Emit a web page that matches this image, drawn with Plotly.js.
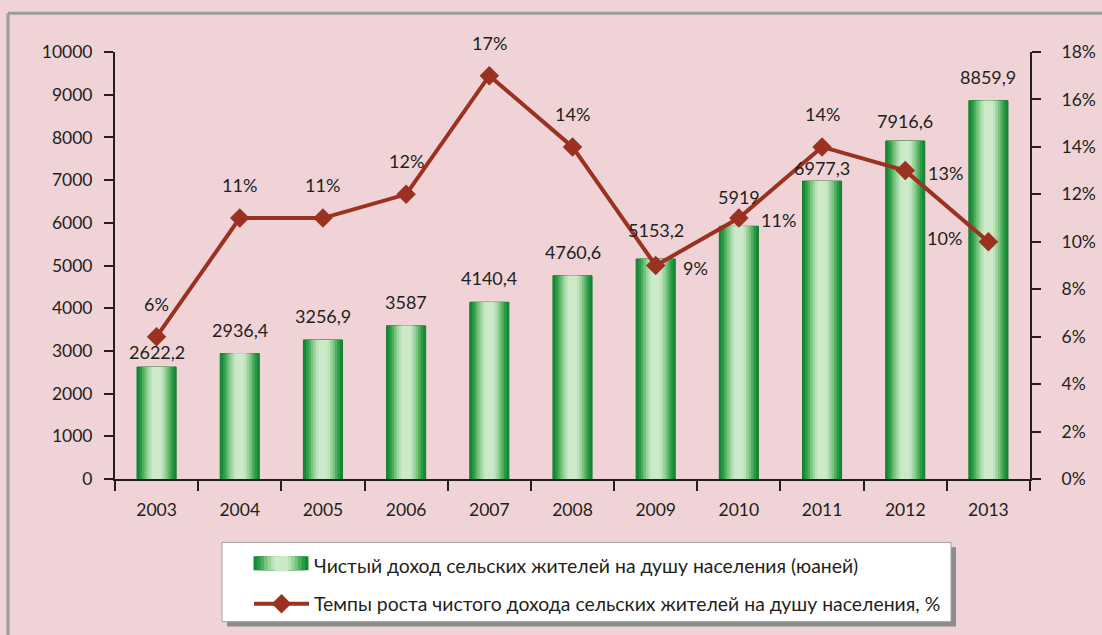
<!DOCTYPE html>
<html>
<head>
<meta charset="utf-8">
<script src="https://cdn.plot.ly/plotly-3.0.1.min.js"></script>
<style>
html,body{margin:0;padding:0;background:#efd3d6;}
#chart{width:1102px;height:635px;}
</style>
</head>
<body>
<div id="chart"></div>
<script>
// ---- data ----
const years = ['2003','2004','2005','2006','2007','2008','2009','2010','2011','2012','2013'];
const income = [2622.2, 2936.4, 3256.9, 3587, 4140.4, 4760.6, 5153.2, 5919, 6977.3, 7916.6, 8859.9];
const growth = [0.06, 0.11, 0.11, 0.12, 0.17, 0.14, 0.09, 0.11, 0.14, 0.13, 0.10];
const growthLabels = ['6%','11%','11%','12%','17%','14%','9%','11%','14%','13%','10%'];
const incomeName = 'Чистый доход сельских жителей на душу населения (юаней)';
const growthName = 'Темпы роста чистого дохода сельских жителей на душу населения, %';

// ---- style ----
const labelPos = ['top','top','top','top','top','top','right','right','top','right','left'];
const barLabelLift = [2, 11, 11, 11, 11, 11, 16, 16, 0, 7, 11];
const gradient = [
  {w:0.47, c:'#178a35'},
  {w:0.41, c:'#2a9a45'},
  {w:0.35, c:'#4fae5f'},
  {w:0.29, c:'#78c37e'},
  {w:0.23, c:'#9dd49e'},
  {w:0.17, c:'#bbe2b8'},
  {w:0.11, c:'#cdeac8'}
];
const FONT = 'Lato, "Open Sans", "DejaVu Sans", sans-serif';
const INK = '#231f20';
const LINE = '#9b3221';

const incomeText = income.map(v => String(v).replace('.', ','));
const last = gradient.length - 1;

const traces = gradient.map((g, i) => ({
  type: 'bar',
  x: years,
  y: income,
  width: g.w,
  offset: -g.w / 2,
  marker: {color: g.c, line: {width: i === 0 ? 1 : 0, color: '#147a2f'}},
  name: incomeName,
  legendgroup: 'a',
  showlegend: i === last,
  hoverinfo: 'skip'
}));

traces.push({
  type: 'scatter',
  mode: 'lines+markers',
  x: years,
  y: growth,
  yaxis: 'y2',
  line: {color: LINE, width: 4},
  marker: {symbol: 'diamond', size: 15, color: LINE},
  name: growthName,
  legendgroup: 'b',
  cliponaxis: false
});

const shiftMap = {
  top:   {xshift: 0,   yshift: 33},
  right: {xshift: 40,  yshift: -2},
  left:  {xshift: -44, yshift: 4}
};
// category axis: annotation x given as the category index
const annotations = years.map((yr, i) => ({
  x: i, y: growth[i], xref: 'x', yref: 'y2',
  text: growthLabels[i], showarrow: false,
  xshift: shiftMap[labelPos[i]].xshift,
  yshift: shiftMap[labelPos[i]].yshift,
  font: {family: FONT, size: 18, color: INK}
}));
years.forEach((yr, i) => annotations.push({
  x: i, y: income[i], xref: 'x', yref: 'y',
  text: incomeText[i], showarrow: false,
  yanchor: 'bottom', yshift: barLabelLift[i],
  font: {family: FONT, size: 18, color: INK}
}));

const W = 915, H = 431, L = 115, T = 52;
const px = x => (x - L) / W;
const py = y => (T + H - y) / H;

const shapes = [
  // outer frame
  {type:'line', xref:'paper', yref:'paper', x0:px(8), x1:px(1110), y0:py(13), y1:py(13), line:{color:'#9c9c9c', width:3}},
  {type:'line', xref:'paper', yref:'paper', x0:px(8), x1:px(8), y0:py(13), y1:py(650), line:{color:'#9c9c9c', width:3}},
  // legend shadow & box
  {type:'rect', xref:'paper', yref:'paper', x0:px(227), x1:px(956), y0:py(552), y1:py(632), fillcolor:'#8c8c8c', line:{width:0}},
  {type:'rect', xref:'paper', yref:'paper', x0:px(222), x1:px(951), y0:py(547), y1:py(627), fillcolor:'#ffffff', line:{color:'#a0a0a0', width:1}}
];
// gradient swatch behind the legend's bar symbol
const swCx = 281, swCy = 568, swW = 55, swH = 14;
gradient.forEach(g => {
  const hw = g.w / gradient[0].w * swW / 2;
  shapes.push({type:'rect', xref:'paper', yref:'paper',
    x0:px(swCx - hw), x1:px(swCx + hw), y0:py(swCy - swH/2), y1:py(swCy + swH/2),
    fillcolor:g.c, line:{width:0}});
});

const layout = {
  width: 1102, height: 635,
  margin: {l: L, r: 1102 - L - W, t: T, b: 635 - T - H},
  paper_bgcolor: '#efd3d6',
  plot_bgcolor: 'rgba(0,0,0,0)',
  font: {family: FONT, size: 17.5, color: INK},
  barmode: 'overlay',
  showlegend: true,
  legend: {
    x: px(249), y: py(551), xanchor: 'left', yanchor: 'top',
    bgcolor: 'rgba(0,0,0,0)', borderwidth: 0,
    font: {family: FONT, size: 19.4, color: INK},
    traceorder: 'grouped', tracegroupgap: 10, itemwidth: 55
  },
  xaxis: {
    type: 'category', range: [-0.5, years.length - 0.5],
    showline: true, linecolor: INK, linewidth: 2,
    ticks: 'outside', tickson: 'boundaries', ticklen: 10, tickwidth: 2, tickcolor: INK,
    ticklabelstandoff: 14,
    showgrid: false, zeroline: false,
    tickfont: {family: FONT, size: 17.5, color: INK}
  },
  yaxis: {
    range: [0, 10000], dtick: 1000, tickformat: 'd',
    showline: true, linecolor: INK, linewidth: 2,
    ticks: 'outside', ticklen: 9, tickwidth: 2, tickcolor: INK,
    ticklabelstandoff: 8,
    showgrid: false, zeroline: false,
    tickfont: {family: FONT, size: 17.5, color: INK}
  },
  yaxis2: {
    overlaying: 'y', side: 'right',
    range: [0, 0.18], dtick: 0.02, tickformat: '.0%',
    showline: true, linecolor: INK, linewidth: 2,
    ticks: 'outside', ticklen: 9, tickwidth: 2, tickcolor: INK,
    ticklabelstandoff: 17,
    showgrid: false, zeroline: false,
    tickfont: {family: FONT, size: 17.5, color: INK}
  },
  shapes: shapes,
  annotations: annotations
};

Plotly.newPlot('chart', traces, layout, {displayModeBar: false, staticPlot: true});
</script>
</body>
</html>
